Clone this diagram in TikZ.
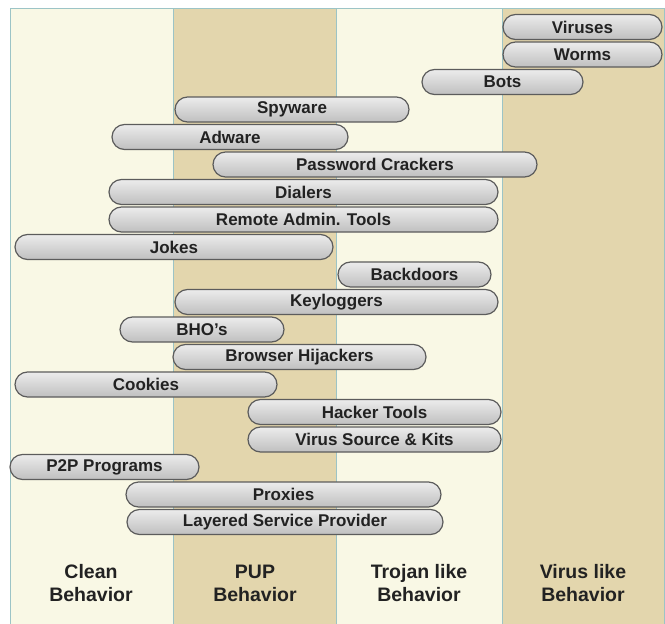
\documentclass[tikz,border=0pt]{standalone}
\usepackage{fontspec}
\setsansfont{Liberation Sans}
\usetikzlibrary{positioning}
\definecolor{cream}{HTML}{F9F8E5}
\definecolor{tan}{HTML}{E3D6AD}
\definecolor{rule}{HTML}{9CC4C6}
\definecolor{barline}{HTML}{5C5C5C}
\definecolor{bartext}{HTML}{222222}
\tikzset{
  band/.style={draw=rule,line width=0.8pt},
  bar/.style={draw=barline,line width=1.2pt,rounded corners=12.5pt,
    top color=gray!15,bottom color=gray!50,
    minimum height=25pt,inner sep=0pt,text=bartext,
    font=\sffamily\bfseries\fontsize{17}{17}\selectfont},
  colname/.style={align=center,text=bartext,
    font=\sffamily\bfseries\fontsize{19.5}{23}\selectfont}
}
\begin{document}
\begin{tikzpicture}[x=1pt,y=-1pt]
  \useasboundingbox (0,0) rectangle (665,624);
  \fill[white] (0,0) rectangle (665,624);
  % behaviour columns
  \fill[cream] (10,8) rectangle (173,624);
  \fill[tan]   (173,8) rectangle (336,624);
  \fill[cream] (336,8) rectangle (502,624);
  \fill[tan]   (502,8) rectangle (664,624);
  \draw[band] (10,624) -- (10,8) -- (664,8) -- (664,624);
  \foreach \xc in {173,336,502}
    \draw[band] (\xc,8) -- (\xc,624);
  % threat bars
  \foreach \n/\cx/\w/\r/\t in {
      viruses/582.5/159/1/Viruses,
      worms/582.5/159/2/Worms,
      bots/502.5/161/3/Bots,
      spyware/292/234/4/Spyware,
      adware/230/236/5/Adware,
      pwcrack/375/324/6/Password Crackers,
      dialers/303.5/389/7/Dialers,
      remote/303.5/389/8/Remote Admin. Tools,
      jokes/174/318/9/Jokes,
      backdoors/414.5/153/10/Backdoors,
      keylog/336.5/323/11/Keyloggers,
      bho/202/164/12/BHO’s,
      hijack/299.5/253/13/Browser Hijackers,
      cookies/146/262/14/Cookies,
      hacker/374.5/253/15/Hacker Tools,
      vsource/374.5/253/16/Virus Source \& Kits,
      ptp/104.5/189/17/P2P Programs,
      proxies/283.5/315/18/Proxies,
      lsp/285/316/19/Layered Service Provider}
    \node[bar,minimum width=\w pt] (\n) at (\cx,{27+27.5*(\r-1)}) {\t};
  % column titles
  \node[colname] (clean)  at (91,583)  {Clean\\Behavior};
  \node[colname] (pup)    at (255,583) {PUP\\Behavior};
  \node[colname] (trojan) at (419,583) {Trojan like\\Behavior};
  \node[colname] (virus)  at (583,583) {Virus like\\Behavior};
\end{tikzpicture}
\end{document}
